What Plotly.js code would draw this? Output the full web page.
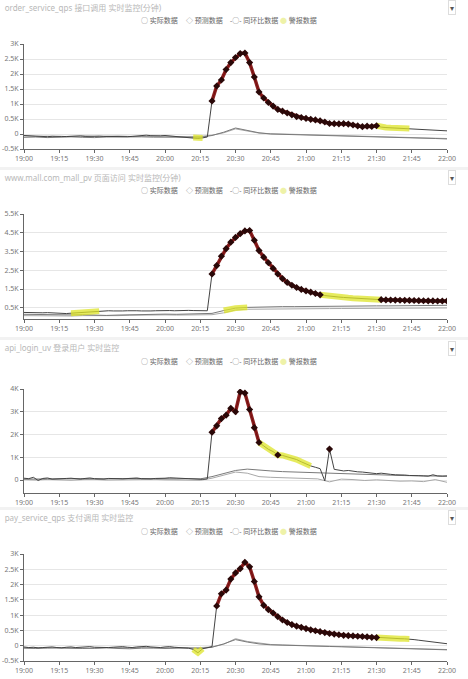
<!DOCTYPE html>
<html>
<head>
<meta charset="utf-8">
<script src="https://cdn.plot.ly/plotly-3.0.1.min.js"></script>
<style>
  html, body { margin: 0; padding: 0; background: #f2f2f2; }
  body { width: 468px; height: 679px; overflow: hidden; }
  .panel { width: 468px; background: #fff; margin-bottom: 3px; }
</style>
</head>
<body>
<div class="panel" id="p1" style="height:167px"></div>
<div class="panel" id="p2" style="height:167px"></div>
<div class="panel" id="p3" style="height:167px"></div>
<div class="panel" id="p4" style="height:169px;margin-bottom:0"></div>
<script>
/* ── four monitoring panels, 19:00 – 22:00 ── */

const LEGEND_NAMES = ['实际数据', '预测数据', '同环比数据', '警报数据'];
const TITLES = [
  'order_service_qps 接口调用 实时监控(分钟)',
  'www.mall.com_mall_pv 页面访问 实时监控(分钟)',
  'api_login_uv 登录用户 实时监控',
  'pay_service_qps 支付调用 实时监控'
];

// actual data every 2 min (91 pts), predicted / yoy every 5 min (37 pts)
const p1Actual = [
  -50,-60,-70,-55,-80,-90,-75,-65,-80,-85, -70,-60,-65,-80,-75,-60,-70,-80,-85,-75,
  -70,-80,-90,-80,-65,-50,-40,-55,-70,-60, -50,-65,-80,-85,-90,-100,-120,-150,-130,-100,
  1100,1600,1800,2150,2380,2550,2680,2700,2380,1900, 1400,1200,1050,930,820,760,700,640,580,550,
  520,490,470,440,400,350,345,340,345,330, 300,270,245,260,250,275,230,215,205,210,
  200,195,185,170,160,150,140,130,120,112, 105];
const p1Pred = [-110,-100,-120,-105,-95,-110,-120,-100,-90,-85,-95,-105,-110,-120,-130,-110,
  -50,60,200,120,40,0,-10,-15,-20,-25,-35,-45,-55,-70,-85,-100,-115,-125,-140,-150,-165];
const p1Yoy = [-60,-80,-70,-90,-75,-60,-85,-70,-65,-80,-70,-60,-75,-85,-90,-80,
  -40,40,170,100,30,10,0,-5,-10,-20,-25,-35,-50,-60,-75,-90,-100,-115,-125,-140,-150];

const p2Actual = [
  250,240,230,220,230,240,220,210,200,190, 210,230,250,260,280,300,320,330,340,330,
  320,330,340,350,340,330,320,330,340,350, 360,350,340,360,370,360,350,340,330,340,
  2300,2750,3250,3650,4000,4250,4450,4600,4620,4100, 3550,3200,2900,2600,2300,2050,1850,1700,1580,1480,
  1400,1330,1260,1190,1150,1110,1090,1070,1050,1030, 1010,990,975,960,950,940,930,920,915,910,
  900,895,890,885,880,875,870,865,862,860, 858];
const p2Pred = [150,140,120,110,120,130,100,90,110,130,150,170,160,150,160,150,
  200,350,480,520,540,550,560,560,570,570,580,580,590,590,600,600,610,610,620,620,630];
const p2Yoy = [80,70,60,50,60,80,70,60,80,100,120,130,120,110,130,120,
  130,230,380,420,430,430,440,440,450,450,455,460,460,465,470,470,475,480,480,485,490];

const p3Actual = [
  80,60,120,-20,70,90,40,60,50,70, 80,60,40,70,90,60,50,40,70,80,
  60,50,70,80,90,60,40,50,70,60, 80,100,90,70,60,50,40,60,30,50,
  2100,2380,2700,2850,3150,3000,3870,3820,3100,2300, 1650,1500,1350,1250,1100,1080,1030,980,900,800,
  700,620,560,500,-40,1360,470,430,400,420, 380,360,350,330,300,280,300,260,250,230,
  240,220,200,210,190,180,170,230,180,170, 180];
const p3Pred = [40,50,60,40,50,60,50,40,60,70,60,50,40,50,60,50,
  150,300,420,480,430,400,370,350,330,310,290,270,260,240,230,210,200,190,180,180,170];
const p3Yoy = [20,0,30,10,-10,20,30,0,10,20,40,30,10,0,20,-10,
  80,200,350,300,150,120,100,90,60,50,-80,40,20,-20,10,-30,-50,-40,-70,20,-100];

const p4Actual = [
  -40,-60,-50,-70,-60,-50,-40,-60,-70,-50, -40,-60,-50,-40,-30,-50,-60,-70,-60,-50,
  -40,-30,-50,-60,-40,-30,-20,-40,-50,-60, -40,-30,-50,-60,-70,-80,-120,-230,-100,-60,
  -30,1300,1700,1820,2180,2380,2520,2730,2580,2100, 1600,1320,1180,1070,950,840,760,690,640,600,
  560,520,490,460,430,400,380,360,340,330, 320,310,300,290,275,265,250,240,235,230,
  230,225,220,200,180,160,140,120,100,80, 65];
const p4Pred = [-80,-90,-70,-80,-100,-90,-80,-70,-90,-100,-80,-70,-90,-80,-70,-90,
  -50,60,200,120,60,30,15,5,-5,-15,-25,-35,-45,-55,-70,-80,-95,-105,-115,-125,-135];
const p4Yoy = [-60,-70,-80,-60,-70,-80,-90,-60,-50,-70,-60,-80,-70,-60,-80,-70,
  -40,50,230,140,80,40,25,15,5,-5,-15,-25,-35,-45,-60,-70,-85,-95,-105,-115,-125];

// index ranges into the series for alarm (red) and warning (yellow) points
const p1Alarm = [[40, 75]];            const p1Warn = [[36, 38, 'a'], [75, 82, 'a']];
const p2Alarm = [[40, 63], [76, 90]];  const p2Warn = [[10, 16, 'a'], [63, 76, 'a'], [17, 19, 'p']];
const p3Alarm = [[40, 50], [54, 54], [65, 65]]; const p3Warn = [[50, 61, 'a']];
const p4Alarm = [[41, 75]];            const p4Warn = [[36, 38, 'a'], [75, 82, 'a']];

// y-axis setups
const yTicks13 = [-500, 0, 500, 1000, 1500, 2000, 2500, 3000];
const yText13  = ['-0.5K', '0', '0.5K', '1K', '1.5K', '2K', '2.5K', '3K'];
const yTicks2  = [500, 1500, 2500, 3500, 4500, 5500];
const yText2   = ['0.5K', '1.5K', '2.5K', '3.5K', '4.5K', '5.5K'];
const yTicks3  = [0, 1000, 2000, 3000, 4000];
const yText3   = ['0', '1K', '2K', '3K', '4K'];

// ── helpers ─────────────────────────────────────
function makeTimes(step, n) {
  const out = [];
  for (let i = 0; i < n; i++) {
    const m = 19 * 60 + i * step;
    const hh = String(Math.floor(m / 60)).padStart(2, '0');
    const mm = String(m % 60).padStart(2, '0');
    out.push(`2024-05-20 ${hh}:${mm}:00`);
  }
  return out;
}
const T2 = makeTimes(2, 91);
const T5 = makeTimes(5, 37);

function pick(ranges, act, pred) {
  const x = [], y = [];
  ranges.forEach(([a, b, src]) => {
    const t = src === 'p' ? T5 : T2;
    const v = src === 'p' ? pred : act;
    for (let i = a; i <= b; i++) { x.push(t[i]); y.push(v[i]); }
    x.push(null); y.push(null);
  });
  return { x, y };
}

const PANELS = [
  { id: 'p1', h: 167, mt: 44, mb: 18, act: p1Actual, pred: p1Pred, yoy: p1Yoy, alarm: p1Alarm, warn: p1Warn,
    range: [-500, 3000], tv: yTicks13, tt: yText13 },
  { id: 'p2', h: 167, mt: 44, mb: 18, act: p2Actual, pred: p2Pred, yoy: p2Yoy, alarm: p2Alarm, warn: p2Warn,
    range: [-100, 5500], tv: yTicks2, tt: yText2 },
  { id: 'p3', h: 167, mt: 49, mb: 14, act: p3Actual, pred: p3Pred, yoy: p3Yoy, alarm: p3Alarm, warn: p3Warn,
    range: [-570, 4000], tv: yTicks3, tt: yText3 },
  { id: 'p4', h: 169, mt: 44, mb: 18, act: p4Actual, pred: p4Pred, yoy: p4Yoy, alarm: p4Alarm, warn: p4Warn,
    range: [-500, 3000], tv: yTicks13, tt: yText13 }
];

const ML = 24, MR = 21, W = 468;
const FONT = "'Noto Sans', 'Noto Sans CJK SC', sans-serif";

function renderPanel(p, idx) {
  const plotH = p.h - p.mt - p.mb;
  const plotW = W - ML - MR;
  const px = x => (x - ML) / plotW;
  const py = y => 1 + (p.mt - y) / plotH;

  const warn = pick(p.warn, p.act, p.pred);
  const alarm = pick(p.alarm, p.act, p.pred);

  const traces = [
    { x: T5, y: p.yoy, type: 'scatter', mode: 'lines', line: { color: '#a8a8a8', width: 1 }, name: LEGEND_NAMES[2], hoverinfo: 'skip' },
    { x: T5, y: p.pred, type: 'scatter', mode: 'lines', line: { color: '#7a7a7a', width: 1 }, name: LEGEND_NAMES[1], hoverinfo: 'skip' },
    { x: T2, y: p.act, type: 'scatter', mode: 'lines', line: { color: '#444', width: 1 }, name: LEGEND_NAMES[0] },
    { x: warn.x, y: warn.y, type: 'scatter', mode: 'lines', connectgaps: false,
      line: { color: 'rgba(221,228,40,0.75)', width: 6 }, name: LEGEND_NAMES[3] },
    { x: alarm.x, y: alarm.y, type: 'scatter', mode: 'lines+markers', connectgaps: false,
      line: { color: 'rgba(125,8,8,0.9)', width: 3.5 },
      marker: { symbol: 'diamond', size: 5.5, color: '#2a0808' }, name: '告警' }
  ];

  // legend drawn like the echarts header: icon + label
  const legendItems = [
    { x: 139, icon: '○', c: '#777' },
    { x: 184, icon: '◇', c: '#777' },
    { x: 228, icon: '-○-', c: '#777' },
    { x: 278, icon: '●', c: '#eef2a8' }
  ];
  const annotations = legendItems.map((it, i) => ({
    xref: 'paper', yref: 'paper', x: px(it.x), y: py(21), xanchor: 'left', yanchor: 'middle',
    text: `<span style="color:${it.c}">${it.icon}</span> ${LEGEND_NAMES[i]}`,
    showarrow: false, font: { size: 7, color: '#666', family: FONT }
  }));
  annotations.push({
    xref: 'paper', yref: 'paper', x: px(452), y: py(8), xanchor: 'center', yanchor: 'middle',
    text: '▾', showarrow: false, font: { size: 8, color: '#555' },
    bordercolor: '#ddd', borderwidth: 1, borderpad: 1, bgcolor: '#fff'
  });

  const layout = {
    width: W, height: p.h,
    margin: { l: ML, r: MR, t: p.mt, b: p.mb },
    paper_bgcolor: '#fff', plot_bgcolor: '#fff',
    font: { family: FONT, size: 7, color: '#666' },
    showlegend: false,
    title: { text: TITLES[idx], x: 0.01, xref: 'container', xanchor: 'left',
             y: 1 - 8 / p.h, yref: 'container', yanchor: 'middle',
             font: { size: 8, color: '#b8b8b8', family: FONT } },
    xaxis: {
      type: 'date', range: ['2024-05-20 19:00:00', '2024-05-20 22:00:00'],
      dtick: 15 * 60 * 1000, tick0: '2024-05-20 19:00:00', tickformat: '%H:%M',
      showgrid: false, showline: true, linecolor: '#666', linewidth: 1,
      ticks: 'outside', ticklen: 3, tickcolor: '#666', zeroline: false,
      tickfont: { size: 7, color: '#777' }
    },
    yaxis: {
      range: p.range, tickvals: p.tv, ticktext: p.tt,
      showgrid: true, gridcolor: '#e6e6e6', gridwidth: 1,
      showline: true, linecolor: '#666', linewidth: 1,
      ticks: 'outside', ticklen: 3, tickcolor: '#666', zeroline: false,
      tickfont: { size: 7, color: '#777' }
    },
    annotations
  };

  Plotly.newPlot(p.id, traces, layout, { displayModeBar: false, staticPlot: true });
}

PANELS.forEach(renderPanel);
</script>
</body>
</html>
